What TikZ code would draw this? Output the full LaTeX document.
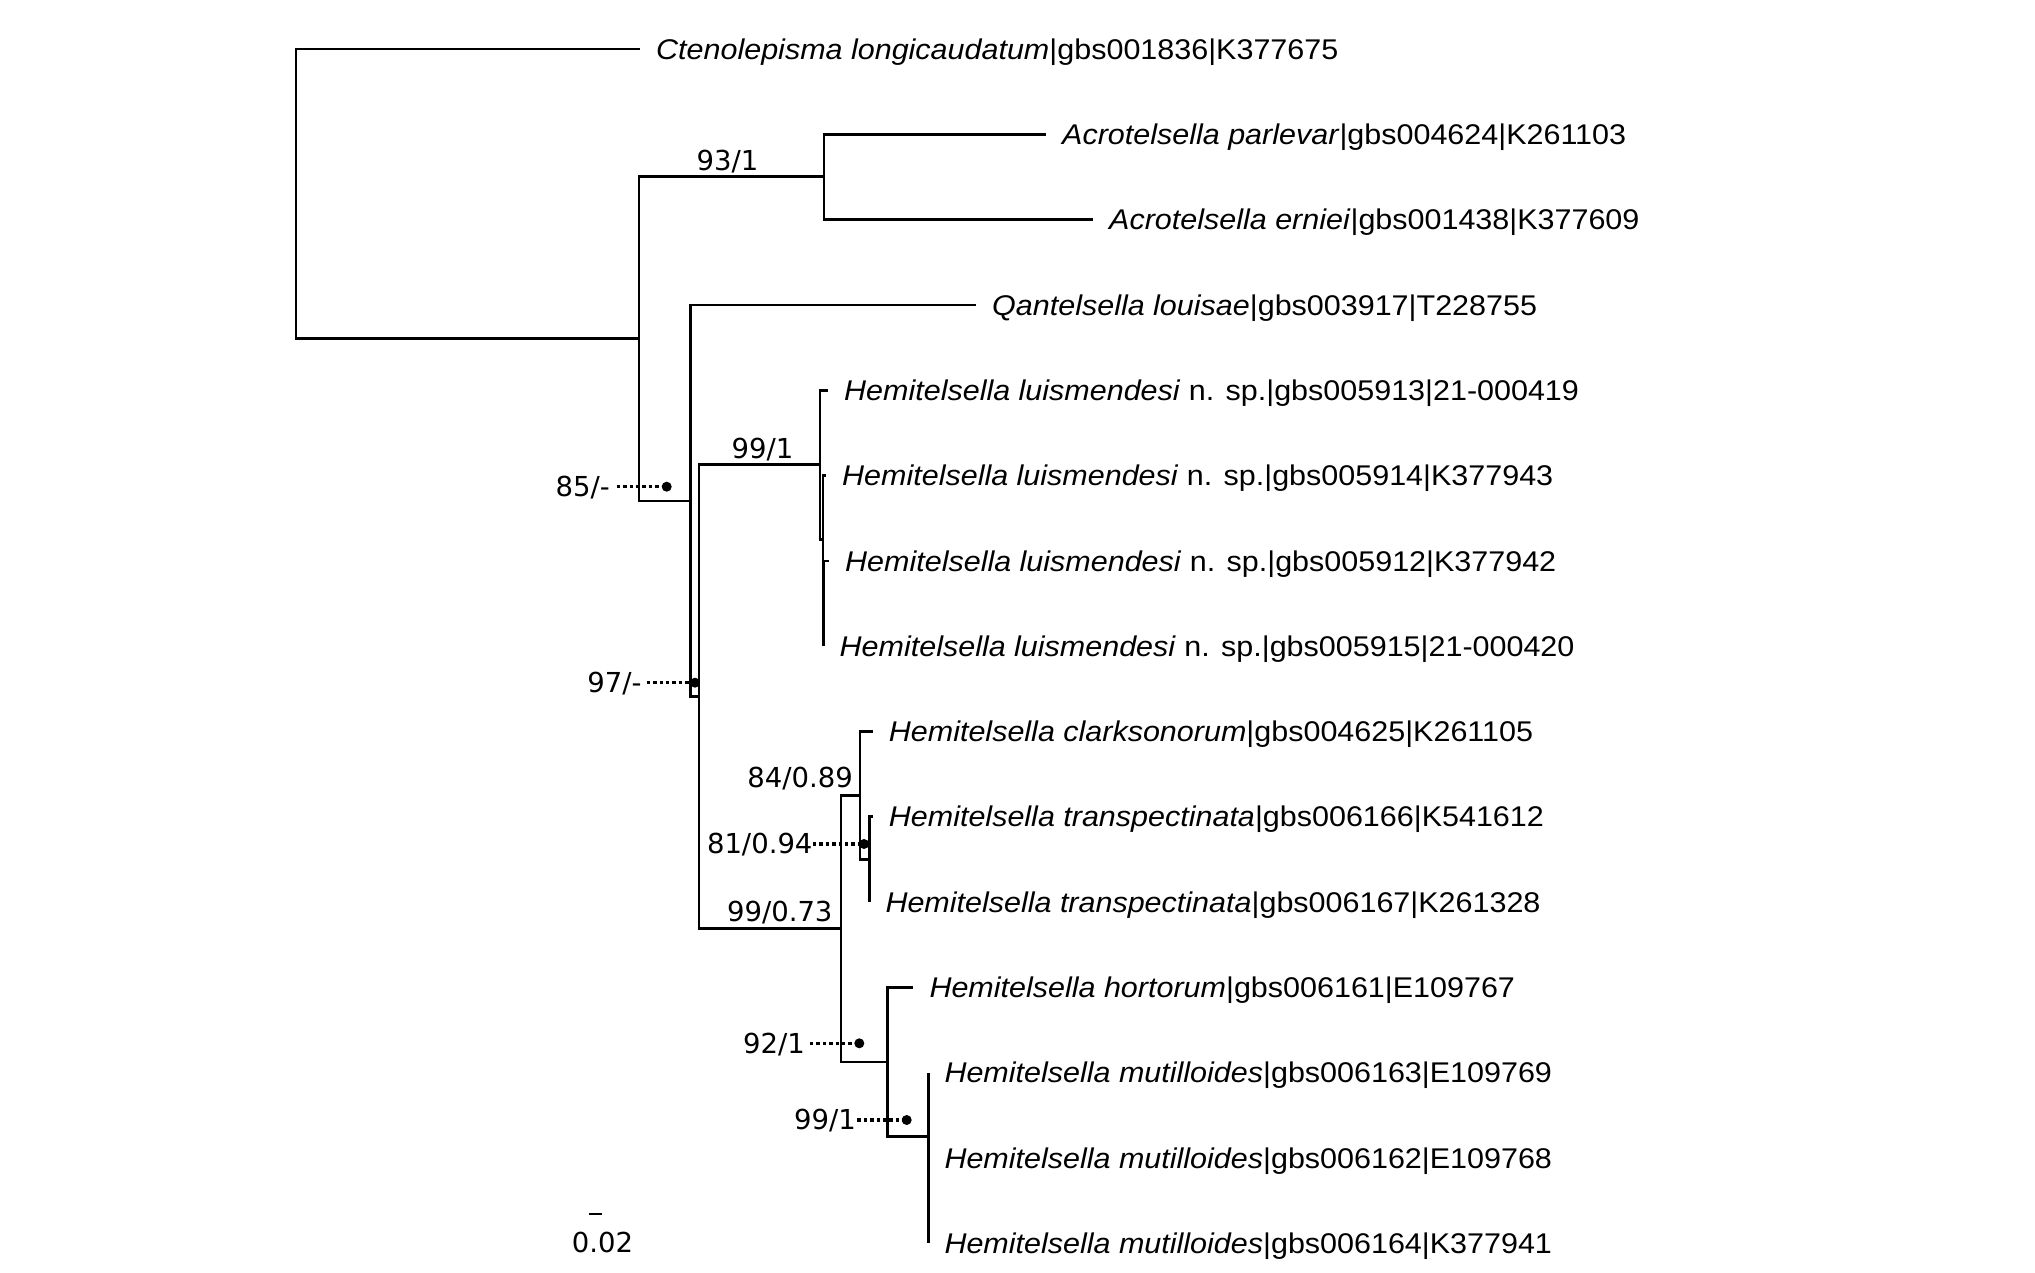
\documentclass[tikz,border=0pt]{standalone}
\usepackage{fontspec}
\setmainfont{Liberation Sans}[FakeStretch=1.07]
\newfontfamily\labfont{DejaVu Sans}
\begin{document}
\begin{tikzpicture}[x=1pt,y=-1pt,
  br/.style={line width=2.6pt},
  taxon/.style={anchor=base west, inner sep=0pt, xshift=16pt, yshift=-10.2pt, font=\fontsize{28.5}{33}\selectfont},
  sup/.style={inner sep=0pt, font=\labfont\fontsize{27.5}{31}\selectfont},
  lead/.style={line width=3.4pt, dash pattern=on 3.4pt off 3pt},
  leaddot/.style={circle, fill=black, inner sep=0pt, minimum size=10pt}]
\useasboundingbox (0,0) rectangle (2035,1273);
% internal nodes
\coordinate (r) at (296,193.7);
\coordinate (nA) at (639,338.4);
\coordinate (nAcro) at (824,176.7);
\coordinate (nB) at (690.7,500.8);
\coordinate (nC) at (699,696.5);
\coordinate (nD) at (820,464.7);
\coordinate (nE) at (823,539.5);
\coordinate (nF) at (823.5,603.4);
\coordinate (nG) at (841,928.7);
\coordinate (nH) at (860,795.4);
\coordinate (nJ) at (869.3,859.3);
\coordinate (nI) at (887.7,1062);
\coordinate (nK) at (928.3,1136.6);
\coordinate (nL) at (928.3,1200.5);
% tips
\coordinate (t0) at (640,49);
\coordinate (t1) at (1046,134.3);
\coordinate (t2) at (1093,219.6);
\coordinate (t3) at (976,304.9);
\coordinate (t4) at (828,390.2);
\coordinate (t5) at (826,475.5);
\coordinate (t6) at (829,560.8);
\coordinate (t7) at (823.5,646.1);
\coordinate (t8) at (872.7,731.4);
\coordinate (t9) at (872.7,816.7);
\coordinate (t10) at (869.3,902);
\coordinate (t11) at (913.3,987.3);
\coordinate (t12) at (928.3,1072.6);
\coordinate (t13) at (928.3,1157.9);
\coordinate (t14) at (928.3,1243.2);
% branches
\draw[br] (r) |- (t0);
\draw[br] (r) |- (nA);
\draw[br] (nA) |- (nAcro);
\draw[br] (nA) |- (nB);
\draw[br] (nAcro) |- (t1);
\draw[br] (nAcro) |- (t2);
\draw[br] (nB) |- (t3);
\draw[br] (nB) |- (nC);
\draw[br] (nC) |- (nD);
\draw[br] (nC) |- (nG);
\draw[br] (nD) |- (t4);
\draw[br] (nD) |- (nE);
\draw[br] (nE) |- (t5);
\draw[br] (nE) |- (nF);
\draw[br] (nF) |- (t6);
\draw[br] (nF) |- (t7);
\draw[br] (nG) |- (nH);
\draw[br] (nG) |- (nI);
\draw[br] (nH) |- (t8);
\draw[br] (nH) |- (nJ);
\draw[br] (nJ) |- (t9);
\draw[br] (nJ) |- (t10);
\draw[br] (nI) |- (t11);
\draw[br] (nI) |- (nK);
\draw[br] (nK) |- (t12);
\draw[br] (nK) |- (nL);
\draw[br] (nL) |- (t13);
\draw[br] (nL) |- (t14);
% tip labels
\node[taxon] (l0) at (t0) {\textit{Ctenolepisma longicaudatum}|gbs001836|K377675};
\node[taxon] (l1) at (t1) {\textit{Acrotelsella parlevar}|gbs004624|K261103};
\node[taxon] (l2) at (t2) {\textit{Acrotelsella erniei}|gbs001438|K377609};
\node[taxon] (l3) at (t3) {\textit{Qantelsella louisae}|gbs003917|T228755};
\node[taxon] (l4) at (t4) {\textit{Hemitelsella luismendesi} n. sp.|gbs005913|21-000419};
\node[taxon] (l5) at (t5) {\textit{Hemitelsella luismendesi} n. sp.|gbs005914|K377943};
\node[taxon] (l6) at (t6) {\textit{Hemitelsella luismendesi} n. sp.|gbs005912|K377942};
\node[taxon] (l7) at (t7) {\textit{Hemitelsella luismendesi} n. sp.|gbs005915|21-000420};
\node[taxon] (l8) at (t8) {\textit{Hemitelsella clarksonorum}|gbs004625|K261105};
\node[taxon] (l9) at (t9) {\textit{Hemitelsella transpectinata}|gbs006166|K541612};
\node[taxon] (l10) at (t10) {\textit{Hemitelsella transpectinata}|gbs006167|K261328};
\node[taxon] (l11) at (t11) {\textit{Hemitelsella hortorum}|gbs006161|E109767};
\node[taxon] (l12) at (t12) {\textit{Hemitelsella mutilloides}|gbs006163|E109769};
\node[taxon] (l13) at (t13) {\textit{Hemitelsella mutilloides}|gbs006162|E109768};
\node[taxon] (l14) at (t14) {\textit{Hemitelsella mutilloides}|gbs006164|K377941};
% support values on branches
\node[sup, anchor=base] (s1) at (727.5,171) {93/1};
\node[sup, anchor=base] (s2) at (762.4,458) {99/1};
\node[sup, anchor=base east] (s3) at (853,787.3) {84/0.89};
\node[sup, anchor=base east] (s4) at (832.7,921.7) {99/0.73};
% support values with leaders
\node[sup, anchor=base east] (s5) at (610,496.5) {85/-};
\node[sup, anchor=base east] (s6) at (641.7,692.5) {97/-};
\node[sup, anchor=base east] (s7) at (812.7,853.7) {81/0.94};
\node[sup, anchor=base east] (s8) at (805,1053) {92/1};
\node[sup, anchor=base east] (s9) at (856,1129.7) {99/1};
\node[leaddot] (d5) at (666.7,486.7) {};
\node[leaddot] (d6) at (695,682.7) {};
\node[leaddot] (d7) at (864,844) {};
\node[leaddot] (d8) at (859.3,1043.3) {};
\node[leaddot] (d9) at (906.7,1120) {};
\coordinate (e5) at (616.7,486.7);
\coordinate (e6) at (646.7,682.7);
\coordinate (e7) at (813,844);
\coordinate (e8) at (810,1043.3);
\coordinate (e9) at (857.3,1120);
\draw[lead] (e5) -- (d5.center);
\draw[lead] (e6) -- (d6.center);
\draw[lead] (e7) -- (d7.center);
\draw[lead] (e8) -- (d8.center);
\draw[lead] (e9) -- (d9.center);
% scale bar
\coordinate (sb1) at (589.3,1214.3);
\coordinate (sb2) at (601.7,1214.3);
\draw[line width=2.2pt] (sb1) -- (sb2);
\node[sup, anchor=base] (sbl) at (602.5,1252.7) {0.02};
\end{tikzpicture}
\end{document}
